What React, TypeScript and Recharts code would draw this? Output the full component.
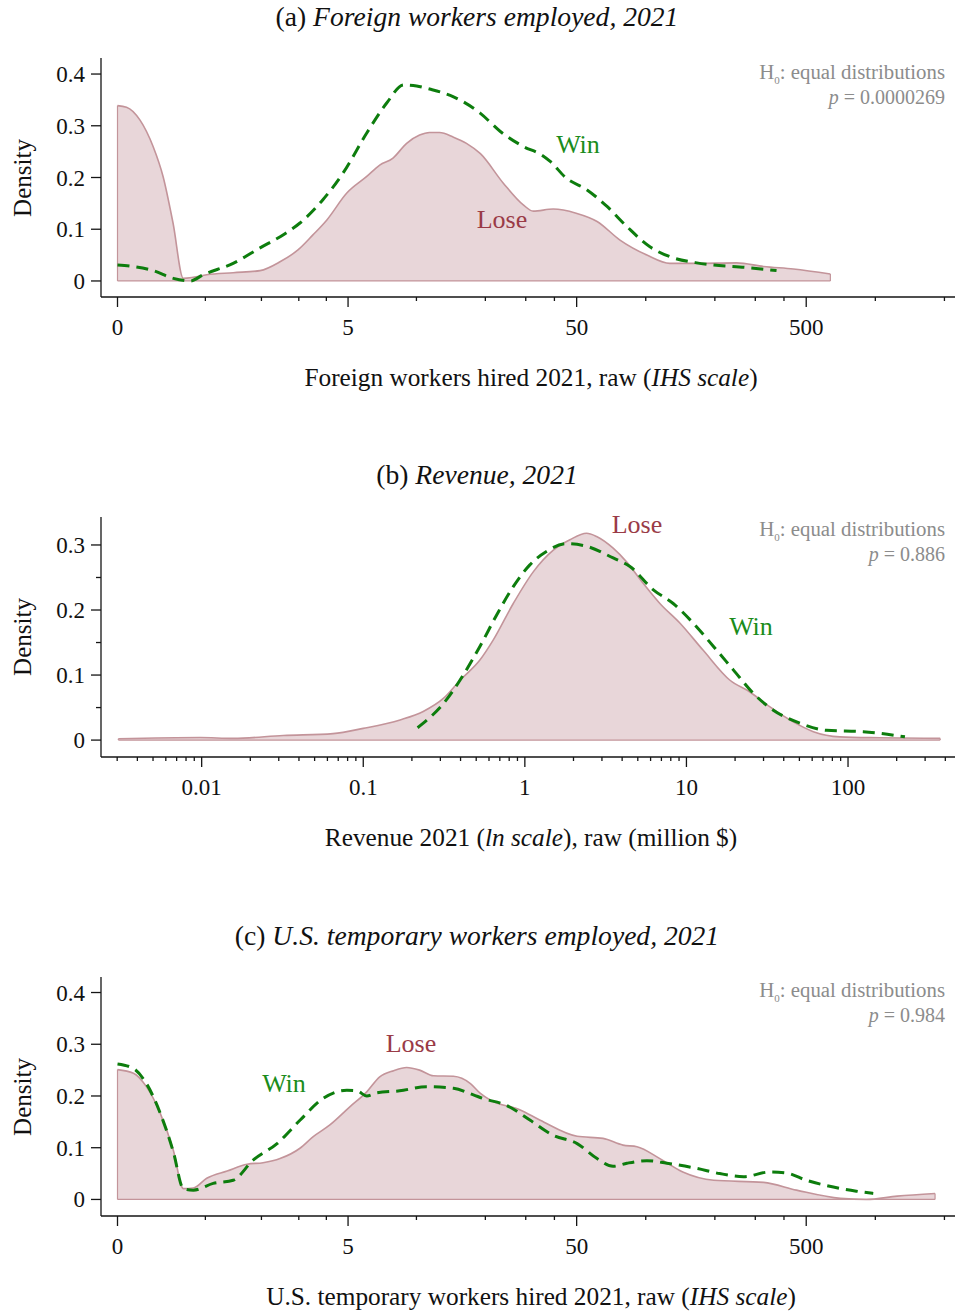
import React from 'react';
import { ComposedChart, Area, Line, XAxis, YAxis, ReferenceLine } from 'recharts';

const FONT = '"Liberation Serif", "Times New Roman", serif';
const LOSE_STROKE = '#c3949a';
const LOSE_FILL = '#e8d6d9';
const LOSE_TEXT = '#9a3b47';
const WIN_LINE = '#0d7d0d';
const WIN_TEXT = '#1a8c1a';
const GREY = '#8c8c8c';
const AXIS = '#151515';

// ---------- Panel (a): foreign workers employed (x in IHS units) ----------
const loseA_x = [0, 0.09, 0.226, 0.357, 0.457, 0.557, 0.66, 0.76, 0.895, 1.16, 1.43, 1.63, 1.81, 1.96, 2.1, 2.3, 2.5, 2.63, 2.76, 2.9, 3.03, 3.13, 3.23, 3.37, 3.5, 3.64, 3.87, 4.07, 4.17, 4.37, 4.6, 4.81, 5.04, 5.31, 5.54, 5.81, 6.21, 6.48, 6.78, 7.15];
const loseA_d = [0.339, 0.336, 0.311, 0.26, 0.202, 0.112, 0.005, 0.007, 0.012, 0.016, 0.02, 0.037, 0.06, 0.089, 0.118, 0.17, 0.202, 0.224, 0.237, 0.266, 0.282, 0.287, 0.287, 0.278, 0.266, 0.246, 0.189, 0.147, 0.135, 0.139, 0.131, 0.115, 0.079, 0.05, 0.034, 0.034, 0.035, 0.028, 0.023, 0.0135];
const winA_x = [0, 0.16, 0.36, 0.56, 0.73, 0.86, 1.16, 1.43, 1.66, 1.83, 2.06, 2.26, 2.5, 2.7, 2.87, 3.0, 3.13, 3.37, 3.64, 3.84, 4.07, 4.25, 4.34, 4.5, 4.71, 4.91, 5.11, 5.34, 5.54, 5.81, 5.98, 6.31, 6.61];
const winA_d = [0.031, 0.028, 0.02, 0.005, 0.0, 0.012, 0.034, 0.064, 0.089, 0.112, 0.157, 0.208, 0.286, 0.344, 0.379, 0.377, 0.371, 0.356, 0.324, 0.289, 0.26, 0.244, 0.231, 0.199, 0.176, 0.144, 0.105, 0.066, 0.047, 0.035, 0.031, 0.026, 0.02];

// ---------- Panel (b): revenue 2021 (raw million $, log axis) ----------
const loseB_x = [0.00305, 0.0098, 0.0157, 0.032, 0.065, 0.1, 0.169, 0.235, 0.313, 0.397, 0.527, 0.638, 0.848, 1.13, 1.5, 1.9, 2.41, 2.78, 3.52, 4.26, 5.4, 6.85, 9.1, 12.7, 18.6, 24.7, 32.9, 45.8, 61, 89, 157, 372];
const loseB_d = [0.002, 0.004, 0.0026, 0.007, 0.01, 0.018, 0.031, 0.044, 0.064, 0.092, 0.123, 0.154, 0.21, 0.259, 0.292, 0.308, 0.318, 0.313, 0.295, 0.274, 0.241, 0.21, 0.18, 0.138, 0.092, 0.074, 0.051, 0.028, 0.013, 0.005, 0.0035, 0.0026];
const winB_x = [0.217, 0.313, 0.527, 0.668, 0.848, 1.07, 1.36, 1.82, 2.41, 3.52, 4.47, 6.24, 8.28, 11, 14.7, 19.5, 25.9, 34.5, 50.3, 73.7, 124, 225];
const winB_d = [0.019, 0.056, 0.144, 0.192, 0.236, 0.269, 0.29, 0.302, 0.298, 0.28, 0.267, 0.231, 0.21, 0.18, 0.144, 0.108, 0.072, 0.046, 0.026, 0.015, 0.013, 0.005];

// ---------- Panel (c): U.S. temporary workers employed (x in IHS units) ----------
const loseC_x = [0, 0.16, 0.29, 0.43, 0.56, 0.66, 0.76, 0.895, 1.1, 1.3, 1.46, 1.63, 1.83, 1.96, 2.13, 2.33, 2.5, 2.63, 2.77, 2.9, 3.03, 3.17, 3.37, 3.54, 3.64, 3.74, 4.04, 4.24, 4.61, 4.87, 5.07, 5.21, 5.44, 5.67, 5.98, 6.48, 6.81, 7.25, 7.51, 7.82, 8.2];
const loseC_d = [0.251, 0.244, 0.218, 0.166, 0.095, 0.021, 0.022, 0.041, 0.055, 0.068, 0.071, 0.079, 0.099, 0.121, 0.144, 0.179, 0.208, 0.237, 0.249, 0.255, 0.25, 0.239, 0.238, 0.224, 0.205, 0.192, 0.173, 0.153, 0.122, 0.118, 0.105, 0.102, 0.079, 0.053, 0.037, 0.033, 0.018, 0.002, 0.0, 0.0064, 0.0116];
const winC_x = [0, 0.16, 0.29, 0.43, 0.56, 0.66, 0.76, 0.96, 1.16, 1.36, 1.6, 1.83, 2.06, 2.3, 2.4, 2.5, 2.6, 2.83, 3.1, 3.37, 3.57, 3.67, 3.9, 4.14, 4.37, 4.61, 4.81, 4.97, 5.11, 5.31, 5.51, 5.81, 6.04, 6.28, 6.54, 6.71, 6.91, 7.18, 7.41, 7.58];
const winC_d = [0.262, 0.253, 0.224, 0.166, 0.092, 0.021, 0.018, 0.031, 0.037, 0.076, 0.108, 0.153, 0.195, 0.211, 0.21, 0.2, 0.206, 0.21, 0.218, 0.215, 0.202, 0.195, 0.182, 0.153, 0.124, 0.108, 0.079, 0.064, 0.07, 0.075, 0.07, 0.06, 0.05, 0.044, 0.053, 0.051, 0.037, 0.024, 0.016, 0.0116];

// ---------- ticks ----------
const ihsTicksRaw = [0, 1, 2, 3, 4, 5, 10, 20, 30, 40, 50, 100, 200, 300, 400, 500, 1000, 2000];
const ihsMajorRaw = [0, 5, 50, 500];
const ihsMajorLabels = ['0', '5', '50', '500'];
const revTicksRaw = [0.003, 0.004, 0.005, 0.006, 0.007, 0.008, 0.009, 0.01, 0.02, 0.03, 0.04, 0.05, 0.06, 0.07, 0.08, 0.09, 0.1, 0.2, 0.3, 0.4, 0.5, 0.6, 0.7, 0.8, 0.9, 1, 2, 3, 4, 5, 6, 7, 8, 9, 10, 20, 30, 40, 50, 60, 70, 80, 90, 100, 200, 300, 400];
const revMajorRaw = [0.01, 0.1, 1, 10, 100];
const revMajorLabels = ['0.01', '0.1', '1', '10', '100'];
const yTicksAC = [0, 0.1, 0.2, 0.3, 0.4];
const yTicksB = [0, 0.05, 0.1, 0.15, 0.2, 0.25, 0.3];

const pts = (xs: number[], ds: number[], tf: (v: number) => number) =>
  xs.map((x, i) => ({ x: tf(x), d: ds[i] }));
const ident = (v: number) => v;

const makeXTick = (majors: number[], labels: string[]) => (props: any) => {
  const { x, y, payload } = props;
  const v = payload.value;
  const idx = majors.findIndex((m) => Math.abs(m - v) < 1e-6);
  const major = idx >= 0;
  return (
    <g>
      <line x1={x} x2={x} y1={y} y2={y + (major ? 10 : 4)} stroke={AXIS} strokeWidth={1.3} />
      {major && (
        <text x={x} y={y + 38} textAnchor="middle" fontSize={23} fontFamily={FONT} fill="#111">
          {labels[idx]}
        </text>
      )}
    </g>
  );
};

const YTick = (props: any) => {
  const { x, y, payload } = props;
  const v = payload.value;
  const major = Math.abs(v * 10 - Math.round(v * 10)) < 1e-6;
  return (
    <g>
      <line x1={x - (major ? 10 : 5)} x2={x} y1={y} y2={y} stroke={AXIS} strokeWidth={1.3} />
      {major && (
        <text x={x - 16} y={y + 8} textAnchor="end" fontSize={23} fontFamily={FONT} fill="#111">
          {v === 0 ? '0' : v.toFixed(1)}
        </text>
      )}
    </g>
  );
};

type PanelProps = {
  top: number;
  height: number;
  marginTop: number;
  xHeight: number;
  xDomain: [number, number];
  yDomain: [number, number];
  xTicks: number[];
  yTicks: number[];
  xTick: (p: any) => any;
  lose: { x: number; d: number }[];
  win: { x: number; d: number }[];
};

const Panel = ({ top, height, marginTop, xHeight, xDomain, yDomain, xTicks, yTicks, xTick, lose, win }: PanelProps) => {
  const first = lose[0];
  const last = lose[lose.length - 1];
  return (
    <div style={{ position: 'absolute', left: 0, top }}>
      <ComposedChart width={955} height={height} margin={{ top: marginTop, right: 0, bottom: 0, left: 0 }}>
        <XAxis
          dataKey="x"
          type="number"
          domain={xDomain}
          allowDataOverflow
          ticks={xTicks}
          interval={0}
          tick={xTick}
          tickLine={false}
          tickSize={0}
          tickMargin={0}
          height={xHeight}
          axisLine={{ stroke: AXIS, strokeWidth: 1.3 }}
        />
        <YAxis
          type="number"
          domain={yDomain}
          allowDataOverflow
          ticks={yTicks}
          interval={0}
          tick={YTick}
          tickLine={false}
          tickSize={0}
          tickMargin={0}
          width={101}
          axisLine={{ stroke: AXIS, strokeWidth: 1.3 }}
        />
        <Area
          data={lose}
          dataKey="d"
          type="monotone"
          stroke={LOSE_STROKE}
          strokeWidth={1.6}
          fill={LOSE_FILL}
          fillOpacity={1}
          baseValue={0}
          dot={false}
          activeDot={false}
          isAnimationActive={false}
        />
        <ReferenceLine segment={[{ x: first.x, y: 0 }, { x: last.x, y: 0 }]} stroke={LOSE_STROKE} strokeWidth={1.2} />
        <ReferenceLine segment={[{ x: first.x, y: 0 }, { x: first.x, y: first.d }]} stroke={LOSE_STROKE} strokeWidth={1.2} />
        <ReferenceLine segment={[{ x: last.x, y: 0 }, { x: last.x, y: last.d }]} stroke={LOSE_STROKE} strokeWidth={1.2} />
        <Line
          data={win}
          dataKey="d"
          type="monotone"
          stroke={WIN_LINE}
          strokeWidth={3}
          strokeDasharray="12 7"
          dot={false}
          activeDot={false}
          isAnimationActive={false}
        />
      </ComposedChart>
    </div>
  );
};

const Note = ({ y, p }: { y: number; p: string }) => (
  <g fill={GREY} fontSize={20.8} fontFamily={FONT}>
    <text x={945} y={y} textAnchor="end">
      H<tspan fontSize={11} dy={5}>0</tspan>
      <tspan dy={-5}>: equal distributions</tspan>
    </text>
    <text x={945} y={y + 25} textAnchor="end" fontSize={20}>
      <tspan fontStyle="italic">p</tspan> = {p}
    </text>
  </g>
);

const Density = ({ cy }: { cy: number }) => (
  <text x={31} y={cy} transform={`rotate(-90 31 ${cy})`} textAnchor="middle" fontSize={25} fontFamily={FONT} fill="#111">
    Density
  </text>
);

export default function App() {
  const ihs = Math.asinh;
  const lg = Math.log10;
  const ihsTicks = ihsTicksRaw.map(ihs);
  const ihsMajors = ihsMajorRaw.map(ihs);
  const revTicks = revTicksRaw.map(lg);
  const revMajors = revMajorRaw.map(lg);
  const xTickIhs = makeXTick(ihsMajors, ihsMajorLabels);
  const xTickRev = makeXTick(revMajors, revMajorLabels);

  return (
    <div style={{ position: 'absolute', left: 0, top: 0, width: 955, height: 1312, background: '#fff', fontFamily: FONT }}>
      <Panel
        top={0}
        height={400}
        marginTop={58}
        xHeight={103}
        xDomain={[-0.1655, 8.4]}
        yDomain={[-0.031, 0.431]}
        xTicks={ihsTicks}
        yTicks={yTicksAC}
        xTick={xTickIhs}
        lose={pts(loseA_x, loseA_d, ident)}
        win={pts(winA_x, winA_d, ident)}
      />
      <Panel
        top={460}
        height={400}
        marginTop={57}
        xHeight={103}
        xDomain={[-2.623, 2.662]}
        yDomain={[-0.026, 0.343]}
        xTicks={revTicks}
        yTicks={yTicksB}
        xTick={xTickRev}
        lose={pts(loseB_x, loseB_d, lg)}
        win={pts(winB_x, winB_d, lg)}
      />
      <Panel
        top={920}
        height={392}
        marginTop={57}
        xHeight={96}
        xDomain={[-0.1655, 8.4]}
        yDomain={[-0.032, 0.43]}
        xTicks={ihsTicks}
        yTicks={yTicksAC}
        xTick={xTickIhs}
        lose={pts(loseC_x, loseC_d, ident)}
        win={pts(winC_x, winC_d, ident)}
      />
      <svg width={955} height={1312} style={{ position: 'absolute', left: 0, top: 0, pointerEvents: 'none' }}>
        <g fontFamily={FONT} fontSize={27.6} fill="#111" textAnchor="middle">
          <text x={477} y={26}>(a) <tspan fontStyle="italic">Foreign workers employed, 2021</tspan></text>
          <text x={477} y={484}>(b) <tspan fontStyle="italic">Revenue, 2021</tspan></text>
          <text x={477} y={945}>(c) <tspan fontStyle="italic">U.S. temporary workers employed, 2021</tspan></text>
        </g>
        <g fontFamily={FONT} fontSize={25.3} fill="#111" textAnchor="middle">
          <text x={531} y={386}>Foreign workers hired 2021, raw (<tspan fontStyle="italic">IHS scale</tspan>)</text>
          <text x={531} y={846}>Revenue 2021 (<tspan fontStyle="italic">ln scale</tspan>), raw (million $)</text>
          <text x={531} y={1305}>U.S. temporary workers hired 2021, raw (<tspan fontStyle="italic">IHS scale</tspan>)</text>
        </g>
        <Density cy={178} />
        <Density cy={637} />
        <Density cy={1097} />
        <Note y={79} p="0.0000269" />
        <Note y={536} p="0.886" />
        <Note y={997} p="0.984" />
        <g fontFamily={FONT} fontSize={26} textAnchor="middle">
          <text x={578} y={153} fill={WIN_TEXT}>Win</text>
          <text x={502} y={228} fill={LOSE_TEXT}>Lose</text>
          <text x={637} y={533} fill={LOSE_TEXT}>Lose</text>
          <text x={751} y={635} fill={WIN_TEXT}>Win</text>
          <text x={411} y={1052} fill={LOSE_TEXT}>Lose</text>
          <text x={284} y={1092} fill={WIN_TEXT}>Win</text>
        </g>
      </svg>
    </div>
  );
}
